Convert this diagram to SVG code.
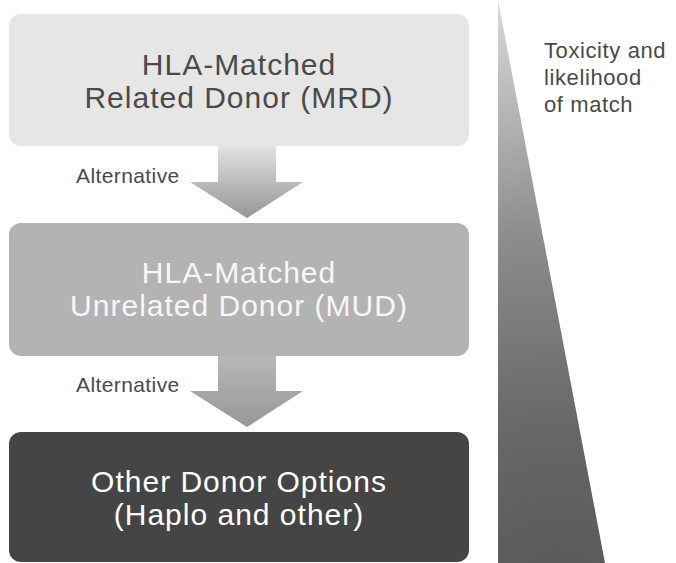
<svg xmlns="http://www.w3.org/2000/svg" width="676" height="563" viewBox="0 0 676 563">
  <defs>
    <style>
      .t { font-family: "Liberation Sans", Arial, sans-serif; }
      .big { font-size: 30px; letter-spacing: 1px; text-anchor: middle; }
      .lbl { font-size: 21px; letter-spacing: 0.4px; fill: #4a4a4a; }
      .side { font-size: 22px; letter-spacing: 0.6px; fill: #4a4a4a; }
    </style>
    <linearGradient id="arr1" x1="0" y1="146" x2="0" y2="218" gradientUnits="userSpaceOnUse">
      <stop offset="0" stop-color="#e2e2e2"/>
      <stop offset="1" stop-color="#969696"/>
    </linearGradient>
    <linearGradient id="arr2" x1="0" y1="355" x2="0" y2="427" gradientUnits="userSpaceOnUse">
      <stop offset="0" stop-color="#b8b8b8"/>
      <stop offset="1" stop-color="#979797"/>
    </linearGradient>
    <radialGradient id="wedge" gradientUnits="userSpaceOnUse" cx="560" cy="620" r="640">
      <stop offset="0" stop-color="#555"/>
      <stop offset="0.3" stop-color="#676767"/>
      <stop offset="0.6" stop-color="#8c8c8c"/>
      <stop offset="1" stop-color="#e0e0e0"/>
    </radialGradient>
  </defs>
  <rect width="676" height="563" fill="#ffffff"/>

  <g id="wedge-scale">
    <polygon points="498,0 605,563 498,563" fill="url(#wedge)"/>
    <text class="t side" x="544" y="58">Toxicity and</text>
    <text class="t side" x="544" y="85">likelihood</text>
    <text class="t side" x="544" y="112">of match</text>
  </g>

  <g id="connectors">
    <polygon points="218,146 276,146 276,182 303,182 247,218 190,182 218,182" fill="url(#arr1)"/>
    <text class="t lbl" x="76" y="183">Alternative</text>
    <polygon points="218,355 276,355 276,391 303,391 247,427 190,391 218,391" fill="url(#arr2)"/>
    <text class="t lbl" x="76" y="392">Alternative</text>
  </g>

  <g id="node-mrd">
    <rect x="9" y="14" width="460" height="132" rx="12" fill="#e6e6e6"/>
    <text class="t big" x="239" y="75" fill="#4a4a4a">HLA-Matched</text>
    <text class="t big" x="239" y="108" fill="#4a4a4a">Related Donor (MRD)</text>
  </g>

  <g id="node-mud">
    <rect x="9" y="223" width="460" height="133" rx="12" fill="#b3b3b3"/>
    <text class="t big" x="239" y="283" fill="#f7f7f7">HLA-Matched</text>
    <text class="t big" x="239" y="316" fill="#f7f7f7">Unrelated Donor (MUD)</text>
  </g>

  <g id="node-other">
    <rect x="9" y="432" width="460" height="130" rx="12" fill="#454545"/>
    <text class="t big" x="239" y="492" fill="#ffffff">Other Donor Options</text>
    <text class="t big" x="239" y="525" fill="#ffffff">(Haplo and other)</text>
  </g>
</svg>
